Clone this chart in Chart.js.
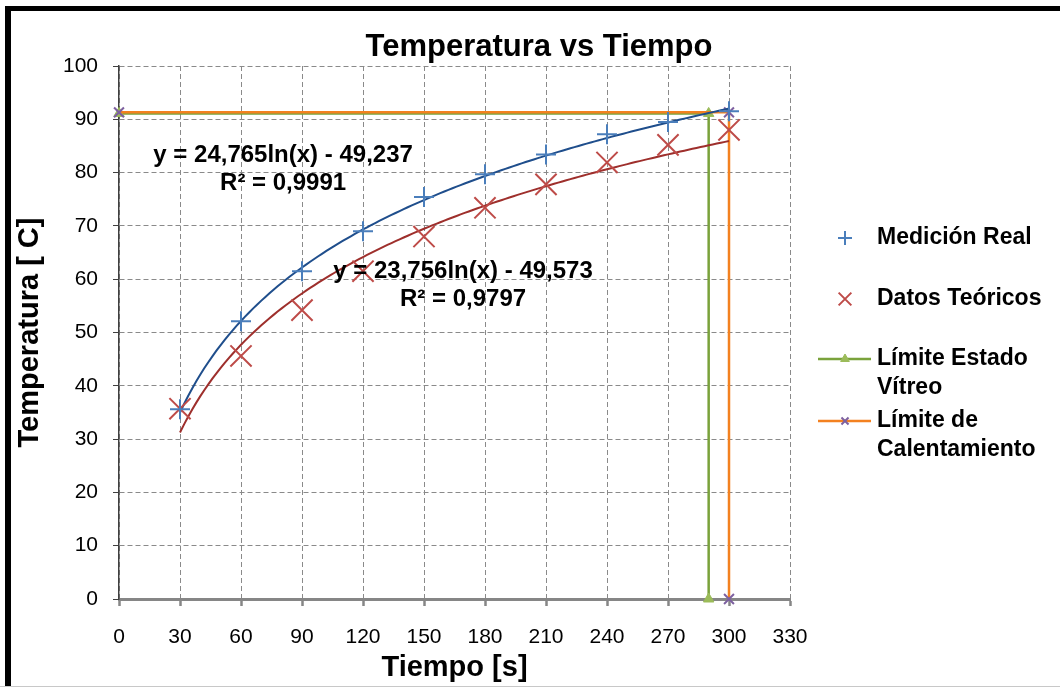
<!DOCTYPE html>
<html>
<head>
<meta charset="utf-8">
<title>Temperatura vs Tiempo</title>
<script src="https://cdn.jsdelivr.net/npm/chart.js@4.4.1/dist/chart.umd.min.js"></script>
<style>
  html, body { margin: 0; padding: 0; background: #fff; }
  #wrap { width: 1060px; height: 687px; position: relative; }
</style>
</head>
<body>
<div id="wrap"><canvas id="tempChart"></canvas></div>
<script>
// --- Datos ---
const tiempos = [30, 60, 90, 120, 150, 180, 210, 240, 270, 300];
const medicionReal = [35.6, 52.1, 61.5, 69.0, 75.4, 79.7, 83.4, 87.2, 89.5, 91.5];
const datosTeoricos = [35.7, 45.6, 54.2, 61.5, 68.0, 73.4, 77.8, 81.9, 85.2, 88.0];

// Ajustes logarítmicos y = a ln(x) + b  ->  [a, b]
const ajusteReal = [24.765, -49.237];
const ajusteTeorico = [23.756, -49.573];
const rangoAjuste = [30, 300];

// Límites
const vitreoX = [0, 290, 290];
const vitreoY = [91.1, 91.1, 0];
const calentX = [0, 300, 300];
const calentY = [91.3, 91.3, 0];

// Ejes
const ticksX = [0, 30, 60, 90, 120, 150, 180, 210, 240, 270, 300, 330];
const ticksY = [0, 10, 20, 30, 40, 50, 60, 70, 80, 90, 100];

const FONT = '"Liberation Sans", Arial, sans-serif';

function puntos(xs, ys) {
    return xs.map((x, i) => ({ x: x, y: ys[i] }));
}

// curva del ajuste a partir de sus coeficientes
function curvaLn(coef) {
    const pts = [];
    for (let x = rangoAjuste[0]; x <= rangoAjuste[1]; x += 2) {
        pts.push({ x: x, y: coef[0] * Math.log(x) + coef[1] });
    }
    return pts;
}

function ecuacion(coef) {
    const a = coef[0].toFixed(3).replace('.', ',');
    const b = Math.abs(coef[1]).toFixed(3).replace('.', ',');
    return 'y = ' + a + 'ln(x) ' + (coef[1] < 0 ? '- ' : '+ ') + b;
}

// --- Marco, título, ecuaciones y leyenda ---
const rotulos = {
    id: 'rotulos',
    beforeDraw(chart) {
        const ctx = chart.ctx;
        ctx.save();
        ctx.fillStyle = '#fff';
        ctx.fillRect(0, 0, chart.width, chart.height);
        ctx.restore();
    },
    afterDraw(chart, args, opts) {
        const ctx = chart.ctx;
        const sx = chart.scales.x, sy = chart.scales.y;
        ctx.save();

        // marco
        ctx.fillStyle = '#000';
        ctx.fillRect(5, 6, chart.width - 5, 5);
        ctx.fillRect(5, 6, 6, chart.height - 6);
        ctx.fillStyle = '#c8c8c8';
        ctx.fillRect(0, chart.height - 1, chart.width, 1);

        // título
        ctx.fillStyle = '#000';
        ctx.textAlign = 'center';
        ctx.textBaseline = 'middle';
        ctx.font = 'bold 31px ' + FONT;
        ctx.fillText('Temperatura vs Tiempo', 539, 47);

        // ecuaciones de tendencia
        ctx.font = 'bold 24px ' + FONT;
        opts.ecuaciones.forEach(e => {
            const px = sx.getPixelForValue(e.pos[0]);
            const py = sy.getPixelForValue(e.pos[1]);
            ctx.fillText(ecuacion(e.coef), px, py);
            ctx.fillText('R² = ' + e.r2, px, py + 28);
        });

        // leyenda
        ctx.textAlign = 'left';
        ctx.font = 'bold 23px ' + FONT;
        opts.leyenda.forEach(item => {
            const ds = chart.data.datasets[item.ds];
            const y = item.y;
            if (item.linea) {
                ctx.strokeStyle = ds.borderColor;
                ctx.lineWidth = ds.borderWidth;
                ctx.beginPath();
                ctx.moveTo(818, y);
                ctx.lineTo(871, y);
                ctx.stroke();
            }
            ctx.strokeStyle = ds.pointBorderColor;
            ctx.fillStyle = ds.pointBackgroundColor;
            ctx.lineWidth = ds.pointBorderWidth;
            Chart.helpers.drawPoint(ctx, {
                pointStyle: ds.pointStyle, radius: item.r, rotation: 0,
                borderWidth: ds.pointBorderWidth
            }, 845, y);
            ctx.fillStyle = '#000';
            const lineas = Array.isArray(ds.label) ? ds.label : [ds.label];
            lineas.forEach((t, k) => ctx.fillText(t, 877, y + k * 29));
        });
        ctx.restore();
    }
};

const ctx = document.getElementById('tempChart').getContext('2d');

new Chart(ctx, {
    type: 'scatter',
    data: {
        datasets: [
            {
                label: 'Medición Real',
                data: puntos(tiempos, medicionReal),
                showLine: false,
                pointStyle: 'cross',
                pointRadius: 10,
                pointBorderWidth: 2,
                pointBorderColor: '#4a7ebb',
                pointBackgroundColor: '#4a7ebb',
                order: 0
            },
            {
                label: 'Datos Teóricos',
                data: puntos(tiempos, datosTeoricos),
                showLine: false,
                pointStyle: 'crossRot',
                pointRadius: 15,
                pointBorderWidth: 2,
                pointBorderColor: '#be4b48',
                pointBackgroundColor: '#be4b48',
                order: 1
            },
            {
                label: ['Límite Estado', 'Vítreo'],
                data: puntos(vitreoX, vitreoY),
                showLine: true,
                borderColor: '#7aa23b',
                borderWidth: 2.5,
                pointStyle: 'triangle',
                pointRadius: 6,
                pointBorderWidth: 1,
                pointBorderColor: '#9bbb59',
                pointBackgroundColor: '#9bbb59',
                clip: false,
                order: 5
            },
            {
                label: ['Límite de', 'Calentamiento'],
                data: puntos(calentX, calentY),
                showLine: true,
                borderColor: '#f38120',
                borderWidth: 2.5,
                pointStyle: 'crossRot',
                pointRadius: 7,
                pointBorderWidth: 2,
                pointBorderColor: '#7d60a0',
                pointBackgroundColor: '#7d60a0',
                clip: false,
                order: 4
            },
            {
                label: 'Tendencia real',
                data: curvaLn(ajusteReal),
                showLine: true,
                borderColor: '#1f4e8c',
                borderWidth: 2,
                pointRadius: 0,
                order: 2
            },
            {
                label: 'Tendencia teórica',
                data: curvaLn(ajusteTeorico),
                showLine: true,
                borderColor: '#9e2f2c',
                borderWidth: 2,
                pointRadius: 0,
                order: 3
            }
        ]
    },
    options: {
        responsive: true,
        maintainAspectRatio: false,
        animation: false,
        events: [],
        layout: { padding: { top: 66, right: 270, bottom: 0, left: 0 } },
        plugins: {
            legend: { display: false },
            title: { display: false },
            tooltip: { enabled: false },
            rotulos: {
                ecuaciones: [
                    { coef: ajusteReal, r2: '0,9991', pos: [80.7, 83.3] },
                    { coef: ajusteTeorico, r2: '0,9797', pos: [169.2, 61.5] }
                ],
                leyenda: [
                    { ds: 0, y: 238, r: 7 },
                    { ds: 1, y: 299, r: 9 },
                    { ds: 2, y: 359, r: 5, linea: true },
                    { ds: 3, y: 421, r: 5, linea: true }
                ]
            }
        },
        scales: {
            x: {
                type: 'linear',
                min: 0,
                max: 330,
                afterBuildTicks: s => { s.ticks = ticksX.map(v => ({ value: v })); },
                afterFit: s => { s.height = 88; },
                ticks: {
                    color: '#000',
                    font: { family: FONT, size: 21 },
                    padding: 19,
                    maxRotation: 0
                },
                grid: {
                    color: '#8a8a8a',
                    lineWidth: 1,
                    tickLength: 7,
                    tickColor: '#868686',
                    tickWidth: 2.5,
                    tickBorderDash: []
                },
                border: { color: '#868686', width: 3, dash: [5, 3] },
                title: {
                    display: true,
                    text: 'Tiempo [s]',
                    color: '#000',
                    font: { family: FONT, size: 29, weight: 'bold' },
                    padding: { top: 0, bottom: 2 }
                }
            },
            y: {
                type: 'linear',
                min: 0,
                max: 100,
                afterBuildTicks: s => { s.ticks = ticksY.map(v => ({ value: v })); },
                afterFit: s => { s.width = 119; },
                ticks: {
                    color: '#000',
                    font: { family: FONT, size: 21 },
                    padding: 15
                },
                grid: {
                    color: '#8a8a8a',
                    lineWidth: 1,
                    tickLength: 6,
                    tickColor: '#404040',
                    tickWidth: 1,
                    tickBorderDash: []
                },
                border: { color: '#404040', width: 1.5, dash: [5, 3] },
                title: {
                    display: true,
                    text: 'Temperatura [ C]',
                    color: '#000',
                    font: { family: FONT, size: 29, weight: 'bold' },
                    padding: { top: 13, bottom: 0 }
                }
            }
        }
    },
    plugins: [rotulos]
});
</script>
</body>
</html>
